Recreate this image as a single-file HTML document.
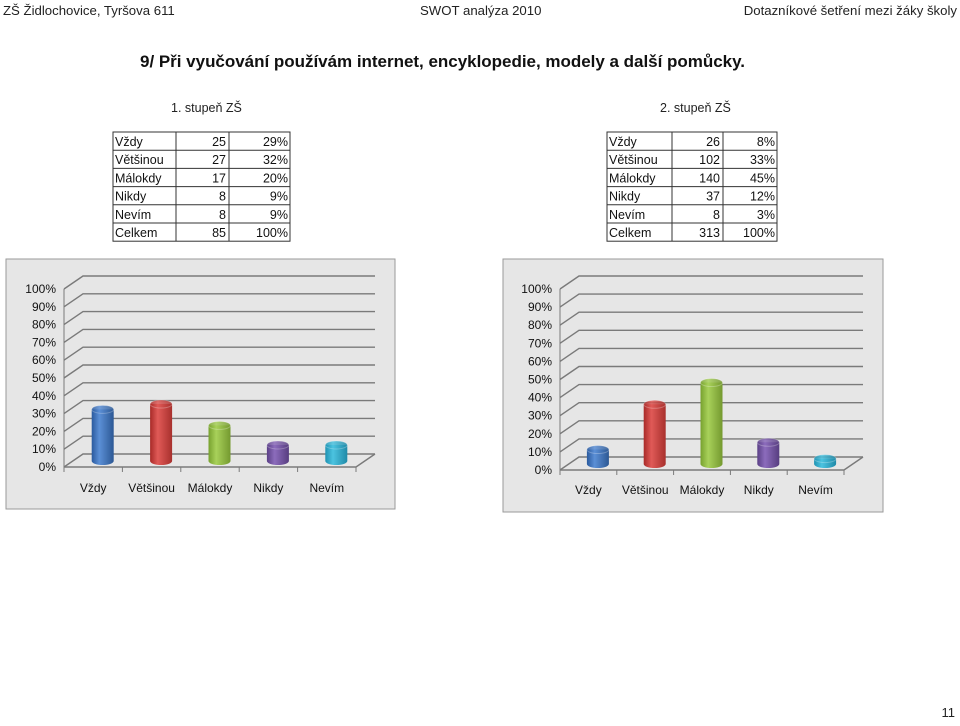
<!DOCTYPE html>
<html><head><meta charset="utf-8">
<style>
body{margin:0;width:960px;height:721px;background:#fff;overflow:hidden;font-family:"Liberation Sans",sans-serif}
svg text{font-family:"Liberation Sans",sans-serif}
</style></head><body>
<svg id="s" width="960" height="721" xmlns="http://www.w3.org/2000/svg">
<defs>
<linearGradient id="gb" x1="0" x2="1"><stop offset="0" stop-color="#2a5a9e"/><stop offset=".35" stop-color="#5b8fd6"/><stop offset="1" stop-color="#2c5894"/></linearGradient>
<linearGradient id="gr" x1="0" x2="1"><stop offset="0" stop-color="#a82a28"/><stop offset=".35" stop-color="#e05a57"/><stop offset="1" stop-color="#a8302d"/></linearGradient>
<linearGradient id="gg" x1="0" x2="1"><stop offset="0" stop-color="#77a12e"/><stop offset=".35" stop-color="#a8d15a"/><stop offset="1" stop-color="#74992f"/></linearGradient>
<linearGradient id="gp" x1="0" x2="1"><stop offset="0" stop-color="#5a3f86"/><stop offset=".35" stop-color="#8c6cbc"/><stop offset="1" stop-color="#573d80"/></linearGradient>
<linearGradient id="gc" x1="0" x2="1"><stop offset="0" stop-color="#1f93b3"/><stop offset=".35" stop-color="#4cc3e0"/><stop offset="1" stop-color="#1f8aa8"/></linearGradient>
</defs>
<g font-size="13.2" fill="#222">
<text x="3" y="15">ZŠ Židlochovice, Tyršova 611</text>
<text x="420" y="15">SWOT analýza 2010</text>
<text x="957" y="15" text-anchor="end">Dotazníkové šetření mezi žáky školy</text>
</g>
<text x="140" y="67" font-size="17" font-weight="bold" fill="#111" textLength="605">9/ Při vyučování používám internet, encyklopedie, modely a další pomůcky.</text>
<text x="171" y="112" font-size="12.5" fill="#222">1. stupeň ZŠ</text>
<text x="660" y="112" font-size="12.5" fill="#222">2. stupeň ZŠ</text>
<g id="tables"></g>
<g id="charts"></g>
<text x="955" y="717" font-size="13" text-anchor="end" fill="#222">11</text>
</svg>
<script>
const categories=["Vždy","Většinou","Málokdy","Nikdy","Nevím"];
const counts1=[25,27,17,8,8];
const pct1=[29,32,20,9,9];
const counts2=[26,102,140,37,8];
const pct2=[8,33,45,12,3];
const total1=85, total2=313;
const yTicks=[0,10,20,30,40,50,60,70,80,90,100];
const grads=["gb","gr","gg","gp","gc"];
const NS="http://www.w3.org/2000/svg";
function mk(p,tag,a,txt){const e=document.createElementNS(NS,tag);for(const k in a)e.setAttribute(k,a[k]);if(txt!=null)e.textContent=txt;p.appendChild(e);return e;}

function table(x0,cols,counts,pcts,total,nm){
  const g=mk(document.getElementById('tables'),'g',{});
  
  
  const y0=132,rh=18.2,rows=categories.length+1;
  const right=cols[2];
  mk(g,'rect',{x:x0,y:y0,width:right-x0,height:rh*rows,fill:'none',stroke:'#333','stroke-width':1});
  for(let i=1;i<rows;i++)mk(g,'line',{x1:x0,x2:right,y1:y0+i*rh,y2:y0+i*rh,stroke:'#333'});
  mk(g,'line',{x1:cols[0],x2:cols[0],y1:y0,y2:y0+rh*rows,stroke:'#333'});
  mk(g,'line',{x1:cols[1],x2:cols[1],y1:y0,y2:y0+rh*rows,stroke:'#333'});
  const labs=categories.concat(["Celkem"]),cs=counts.concat([total]),ps=pcts.map(v=>v+"%").concat(["100%"]);
  for(let i=0;i<rows;i++){
    const y=y0+i*rh+14;
    const a=mk(g,'text',{x:x0+2,y:y,'font-size':12.5,fill:'#111'},labs[i]);
    
    
    const b=mk(g,'text',{x:cols[1]-3,y:y,'font-size':12.5,fill:'#111','text-anchor':'end'},cs[i]);
    
    
    const c=mk(g,'text',{x:cols[2]-2,y:y,'font-size':12.5,fill:'#111','text-anchor':'end'},ps[i]);
    
    
  }
}
table(113,[176,229,290],counts1,pct1,total1,'table-level-1');
table(607,[672,723,777],counts2,pct2,total2,'table-level-2');

function chart(o,vals,nm){
  const g=mk(document.getElementById('charts'),'g',{});
  
  
  mk(g,'rect',{x:o.fx,y:o.fy,width:o.fw,height:o.fh,fill:'#e6e6e6',stroke:'#9a9a9a'});
  const dx=19,dy=-13;
  const yF=v=>o.y0-(o.y0-o.y100)*v/100;
  for(const t of yTicks){
    const y=yF(t);
    mk(g,'polyline',{points:`${o.ax},${y} ${o.ax+dx},${y+dy} ${o.bxr},${y+dy}`,fill:'none',stroke:'#7a7a7a','stroke-width':1.4});
    const tl=mk(g,'text',{x:o.ax-8,y:y+4,'font-size':12,'text-anchor':'end',fill:'#111'},t+"%");
    
    
  }
  mk(g,'line',{x1:o.ax,x2:o.ax,y1:yF(100),y2:yF(0),stroke:'#7a7a7a'});
  mk(g,'polyline',{points:`${o.ax},${yF(0)} ${o.bxr-dx},${yF(0)} ${o.bxr},${yF(0)+dy}`,fill:'none',stroke:'#7a7a7a','stroke-width':1.4});
  const step=(o.bxr-dx-o.ax)/categories.length;
  for(let i=0;i<=categories.length;i++){
    const x=o.ax+i*step;mk(g,'line',{x1:x,x2:x,y1:yF(0),y2:yF(0)+5,stroke:'#7a7a7a'});
  }
  const mid0=o.y0-6, mid100=o.y100-6;
  vals.forEach((v,i)=>{
    const cx=o.ax+(i+0.5)*step+dx/2, rx=11, ry=4;
    const yb=mid0, yt=mid0-(mid0-mid100)*v/100;
    const bar=mk(g,'path',{d:`M${cx-rx},${yt} L${cx-rx},${yb} A${rx},${ry} 0 0 0 ${cx+rx},${yb} L${cx+rx},${yt} Z`,fill:`url(#${grads[i]})`});
    
    
    mk(g,'ellipse',{cx:cx,cy:yt,rx:rx,ry:ry,fill:`url(#${grads[i]})`,opacity:.85,stroke:'rgba(255,255,255,.3)'});
    const lb=mk(g,'text',{x:o.ax+(i+0.5)*step,y:o.ly,'font-size':12,'text-anchor':'middle',fill:'#111'},categories[i]);
    
    
  });
}
chart({fx:6,fy:259,fw:389,fh:250,ax:64,bxr:375,y0:467,y100:289,ly:492},pct1,'chart-level-1');
chart({fx:503,fy:259,fw:380,fh:253,ax:560,bxr:863,y0:470,y100:289,ly:494},pct2,'chart-level-2');
</script>
</body></html>
